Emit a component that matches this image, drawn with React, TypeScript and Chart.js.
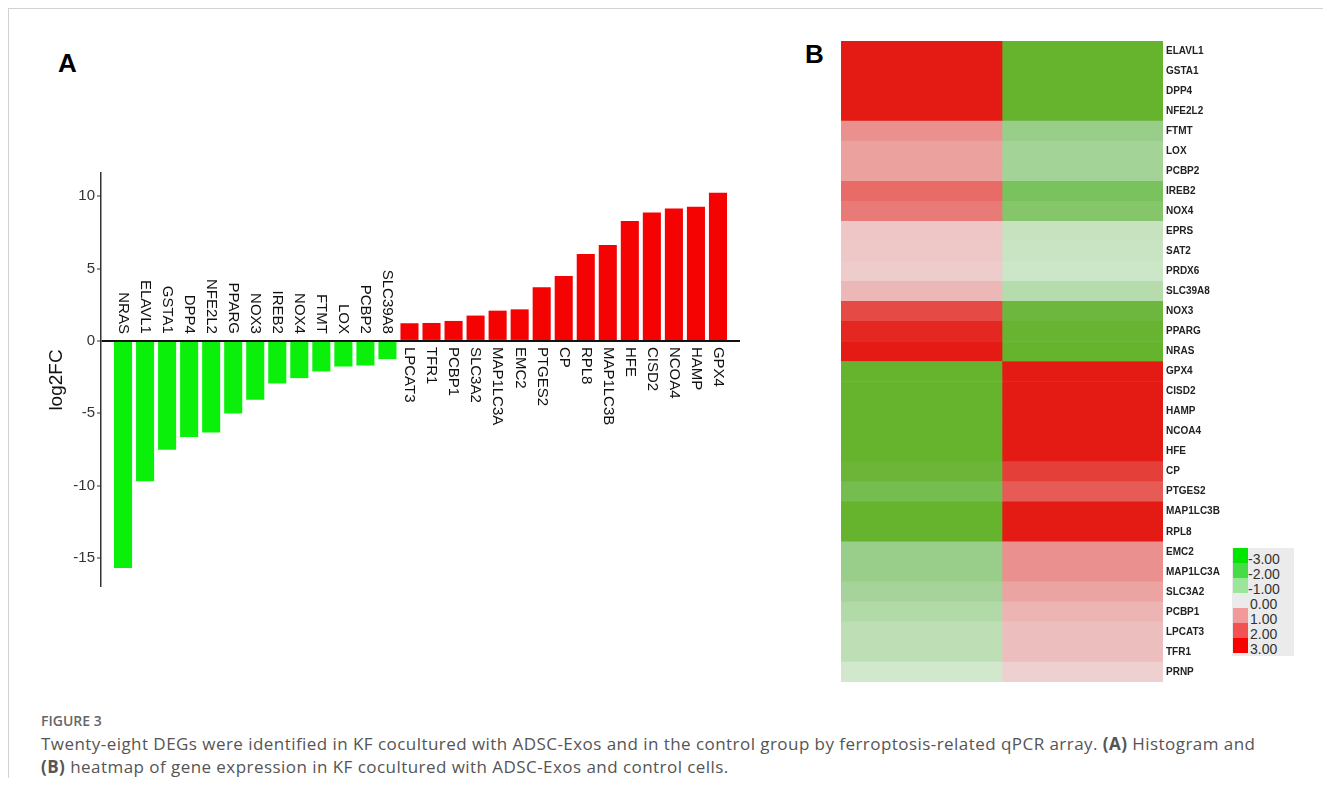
import React, { useEffect, useRef } from "react";
import { Chart, registerables } from "chart.js";

Chart.register(...registerables);

// ---------- Panel A data ----------
const barGenes = [
  "NRAS", "ELAVL1", "GSTA1", "DPP4", "NFE2L2", "PPARG", "NOX3", "IREB2", "NOX4",
  "FTMT", "LOX", "PCBP2", "SLC39A8", "LPCAT3", "TFR1", "PCBP1", "SLC3A2",
  "MAP1LC3A", "EMC2", "PTGES2", "CP", "RPL8", "MAP1LC3B", "HFE", "CISD2",
  "NCOA4", "HAMP", "GPX4",
];
const log2FC = [
  -15.68, -9.7, -7.52, -6.64, -6.32, -5.01, -4.07, -2.94, -2.57,
  -2.11, -1.77, -1.7, -1.26, 1.22, 1.24, 1.38, 1.75,
  2.09, 2.18, 3.7, 4.48, 6.0, 6.62, 8.28, 8.87,
  9.15, 9.26, 10.23,
];
const yTicks = [-15, -10, -5, 0, 5, 10];

// ---------- Panel B data ----------
const heatGenes = [
  "ELAVL1", "GSTA1", "DPP4", "NFE2L2", "FTMT", "LOX", "PCBP2", "IREB2", "NOX4",
  "EPRS", "SAT2", "PRDX6", "SLC39A8", "NOX3", "PPARG", "NRAS", "GPX4", "CISD2",
  "HAMP", "NCOA4", "HFE", "CP", "PTGES2", "MAP1LC3B", "RPL8", "EMC2",
  "MAP1LC3A", "SLC3A2", "PCBP1", "LPCAT3", "TFR1", "PRNP",
];
const heatLeft = [
  3, 3, 3, 3, 1.18, 0.93, 0.93, 1.77, 1.52,
  0.37, 0.34, 0.28, 0.58, 2.27, 2.8, 3, -3, -3,
  -3, -3, -3, -2.44, -2.02, -3, -3, -1.18,
  -1.18, -0.9, -0.64, -0.47, -0.47, -0.22,
];
const heatRight = [
  -3, -3, -3, -3, -1.18, -0.93, -0.93, -1.77, -1.52,
  -0.37, -0.34, -0.28, -0.58, -2.27, -2.8, -3, 3, 3,
  3, 3, 3, 2.44, 2.02, 3, 3, 1.18,
  1.18, 0.9, 0.64, 0.47, 0.47, 0.22,
];
const legendValues = [-3, -2, -1, 0, 1, 2, 3];

// ---------- colour scales ----------
const redStops: [number, number[]][] = [
  [0, [238, 222, 222]],
  [3, [227, 27, 20]],
];
const greenStops: [number, number[]][] = [
  [0, [225, 240, 222]],
  [0.3, [203, 229, 198]],
  [0.6, [180, 218, 170]],
  [1.0, [160, 209, 148]],
  [1.2, [152, 205, 137]],
  [1.5, [134, 198, 108]],
  [1.8, [121, 194, 92]],
  [2.3, [109, 182, 60]],
  [3, [102, 179, 46]],
];
function heatColor(v: number): string {
  const stops = v >= 0 ? redStops : greenStops;
  const a = Math.min(Math.abs(v), 3);
  for (let i = 0; i < stops.length - 1; i++) {
    const [x0, c0] = stops[i];
    const [x1, c1] = stops[i + 1];
    if (a >= x0 && a <= x1) {
      const f = (a - x0) / (x1 - x0);
      const c = c0.map((ch, k) => Math.round(ch + (c1[k] - ch) * f));
      return `rgb(${c[0]},${c[1]},${c[2]})`;
    }
  }
  const c = stops[stops.length - 1][1];
  return `rgb(${c[0]},${c[1]},${c[2]})`;
}
const legendColors: Record<number, string> = {
  [-3]: "#00e600",
  [-2]: "#45dc45",
  [-1]: "#9ae69a",
  [0]: "transparent",
  [1]: "#f29a9a",
  [2]: "#f25252",
  [3]: "#fa0000",
};

const FONT = '"Liberation Sans", Arial, sans-serif';

const barLabelPlugin = {
  id: "barLabels",
  afterDatasetsDraw(chart: any) {
    const meta = chart.getDatasetMeta(0);
    const zeroY = chart.scales.y.getPixelForValue(0);
    const ctx = chart.ctx;
    ctx.save();
    ctx.font = `15px ${FONT}`;
    ctx.fillStyle = "#111";
    ctx.textBaseline = "middle";
    meta.data.forEach((el: any, i: number) => {
      const v = log2FC[i];
      ctx.save();
      ctx.translate(el.x, v < 0 ? zeroY - 7 : zeroY + 6);
      ctx.rotate(Math.PI / 2);
      ctx.textAlign = v < 0 ? "right" : "left";
      ctx.fillText(barGenes[i], 0, 0);
      ctx.restore();
    });
    ctx.restore();
  },
};

function BarPanel() {
  const ref = useRef<HTMLCanvasElement>(null);
  useEffect(() => {
    const chart = new Chart(ref.current!, {
      type: "bar",
      data: {
        datasets: [
          {
            data: log2FC.map((v, i) => ({ x: i, y: v })),
            backgroundColor: log2FC.map((v) => (v < 0 ? "#0af00a" : "#f50202")),
            barPercentage: 0.82,
            categoryPercentage: 1,
            borderWidth: 0,
          },
        ],
      },
      options: {
        animation: false,
        responsive: false,
        layout: { padding: { top: 13, right: 20, bottom: 13, left: 0 } },
        plugins: { legend: { display: false }, tooltip: { enabled: false } },
        scales: {
          x: { type: "linear", min: -1, max: 28, offset: false, display: false },
          y: {
            min: -17,
            max: 11.6,
            afterFit: (s: any) => {
              s.width = 61;
            },
            afterBuildTicks: (s: any) => {
              s.ticks = yTicks.map((v) => ({ value: v }));
            },
            ticks: {
              font: { family: FONT, size: 15 },
              color: "#333",
              padding: 2,
            },
            grid: {
              drawOnChartArea: true,
              color: (c: any) => (c.tick && c.tick.value === 0 ? "#111" : "rgba(0,0,0,0)"),
              lineWidth: (c: any) => (c.tick && c.tick.value === 0 ? 2 : 0),
              tickColor: "#333",
              tickWidth: 1,
              tickLength: 4,
            },
            border: { display: true, color: "#333", width: 1.5 },
            title: {
              display: true,
              text: "log2FC",
              font: { family: FONT, size: 19 },
              color: "#111",
              padding: { top: 5, bottom: 0 },
            },
          },
        },
      } as any,
      plugins: [barLabelPlugin],
    });
    return () => chart.destroy();
  }, []);
  return <canvas ref={ref} width={720} height={440} style={{ display: "block" }} />;
}

function HeatPanel() {
  const ref = useRef<HTMLCanvasElement>(null);
  useEffect(() => {
    const common = { grouped: false, barPercentage: 1, categoryPercentage: 1, borderWidth: 0 };
    const chart = new Chart(ref.current!, {
      type: "bar",
      data: {
        labels: heatGenes,
        datasets: [
          { ...common, data: heatGenes.map(() => [0, 1]), backgroundColor: heatLeft.map(heatColor) },
          { ...common, data: heatGenes.map(() => [1, 2]), backgroundColor: heatRight.map(heatColor) },
        ],
      },
      options: {
        indexAxis: "y",
        animation: false,
        responsive: false,
        layout: { padding: { top: 0, right: 0, bottom: 0, left: 6 } },
        plugins: { legend: { display: false }, tooltip: { enabled: false } },
        scales: {
          x: { type: "linear", min: 0, max: 2, display: false },
          y: {
            position: "right",
            afterFit: (s: any) => {
              s.width = 62;
            },
            grid: { display: false, drawTicks: false },
            border: { display: false },
            ticks: {
              autoSkip: false,
              padding: 3,
              color: "#222",
              font: { family: FONT, size: 10, weight: "bold" },
            },
          },
        },
      } as any,
    });
    return () => chart.destroy();
  }, []);
  return <canvas ref={ref} width={390} height={659} style={{ display: "block" }} />;
}

export default function App() {
  // container padding box starts at page (9, 9)
  const abs = (x: number, y: number): React.CSSProperties => ({
    position: "absolute",
    left: x - 9,
    top: y - 9,
  });
  return (
    <div
      style={{
        position: "relative",
        width: 1322,
        height: 785,
        marginBottom: -16,
        borderTop: "1px solid #d2d2d2",
        borderLeft: "1px solid #d2d2d2",
        background: "#fff",
        overflow: "hidden",
      }}
    >
      <div style={{ ...abs(58, 49.6), font: `bold 26px ${FONT}`, lineHeight: "26px", color: "#000" }}>A</div>
      <div style={{ ...abs(805, 40.6), font: `bold 26px ${FONT}`, lineHeight: "26px", color: "#000" }}>B</div>
      <div style={abs(40, 160)}>
        <BarPanel />
      </div>
      <div style={abs(835, 32)}>
        <HeatPanel />
      </div>
      {/* colour key */}
      <div style={{ ...abs(1232, 548), width: 62, height: 108, background: "#ebebeb" }} />
      {legendValues.map((v, i) => (
        <div
          key={"sw" + v}
          style={{ ...abs(1233, 548 + i * 15), width: 15, height: 15, background: legendColors[v] }}
        />
      ))}
      <div style={{ ...abs(1248, 552), font: `14px ${FONT}`, lineHeight: "15px", color: "#333" }}>
        {legendValues.map((v) => (
          <div key={"lb" + v} style={{ paddingLeft: v < 0 ? 0 : 2 }}>
            {v.toFixed(2)}
          </div>
        ))}
      </div>
      {/* caption */}
      <div style={{ ...abs(41, 710.6), fontFamily: '"Open Sans", "Noto Sans", sans-serif', color: "#555" }}>
        <div style={{ fontSize: 14, lineHeight: "20px", fontWeight: 600, color: "#666" }}>FIGURE 3</div>
        <div style={{ fontSize: 17, lineHeight: "23px", letterSpacing: 0.45, whiteSpace: "nowrap", marginTop: 1 }}>
          Twenty-eight DEGs were identified in KF cocultured with ADSC-Exos and in the control group by
          ferroptosis-related qPCR array. <b>(A)</b> Histogram and
          <br />
          <b>(B)</b> heatmap of gene expression in KF cocultured with ADSC-Exos and control cells.
        </div>
      </div>
    </div>
  );
}
